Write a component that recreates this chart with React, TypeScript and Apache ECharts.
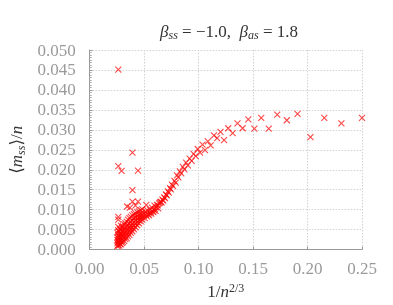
import React, { useEffect, useRef } from 'react';
import * as echarts from 'echarts';

// Upper branch (small n)
const upperX = [0.25, 0.2311, 0.2154, 0.2027, 0.1908, 0.181, 0.1722, 0.1644, 0.1575, 0.1512, 0.1456, 0.1404, 0.1357, 0.1313, 0.1272, 0.1234, 0.1201, 0.117, 0.1141, 0.1111, 0.1085, 0.1059, 0.1036];
const upperY = [0.033, 0.0316, 0.033, 0.0282, 0.034, 0.0324, 0.0338, 0.0303, 0.033, 0.0303, 0.0326, 0.0304, 0.0316, 0.0292, 0.0304, 0.0274, 0.0295, 0.0279, 0.0286, 0.0261, 0.0271, 0.0249, 0.0263];

// Rising band
const bandX = [0.1013, 0.0992, 0.0973, 0.0954, 0.0936, 0.0918, 0.0901, 0.0885, 0.087, 0.0855, 0.0841, 0.0828, 0.0814, 0.0802, 0.079, 0.0778, 0.0766, 0.0755, 0.0745, 0.0737, 0.0727, 0.0718, 0.0709, 0.07, 0.0692, 0.0683, 0.0675, 0.0668, 0.066, 0.0653, 0.0638, 0.0625, 0.0612, 0.06, 0.0589, 0.0578, 0.0562, 0.0548, 0.0534, 0.0517, 0.0498];
const bandY = [0.0243, 0.0252, 0.0234, 0.024, 0.0222, 0.0228, 0.0211, 0.0218, 0.0201, 0.0207, 0.0191, 0.0196, 0.0181, 0.0186, 0.0168, 0.0172, 0.0159, 0.0163, 0.0151, 0.0154, 0.0143, 0.0146, 0.0136, 0.0138, 0.0129, 0.0131, 0.0123, 0.0125, 0.0118, 0.012, 0.0116, 0.0111, 0.0106, 0.0102, 0.0099, 0.0096, 0.0093, 0.0091, 0.0089, 0.0087, 0.0085];

// Scatter around the shoulder
const shoulderX = [0.0505, 0.0512, 0.0525, 0.053, 0.0545, 0.0552, 0.0565, 0.0572, 0.0585, 0.0595, 0.0605, 0.0618, 0.063, 0.0645];
const shoulderY = [0.0079, 0.0095, 0.0083, 0.0098, 0.0086, 0.0101, 0.009, 0.0105, 0.0094, 0.011, 0.0097, 0.0112, 0.0103, 0.0118];

// Dense cloud at large n
const cloudX = [0.0255, 0.0262, 0.027, 0.0278, 0.0287, 0.0296, 0.0306, 0.0317, 0.0328, 0.034, 0.0352, 0.0365, 0.0378, 0.0392, 0.0406, 0.0421, 0.0436, 0.0452, 0.0468, 0.0484];
const cloudY = [
  [0.0009, 0.0016, 0.0024, 0.0031, 0.0042],
  [0.0012, 0.002, 0.0028, 0.0036, 0.0048, 0.0057],
  [0.001, 0.0018, 0.0026, 0.0034, 0.0045],
  [0.0014, 0.0022, 0.0031, 0.004, 0.0052],
  [0.0013, 0.0021, 0.0029, 0.0038, 0.0049, 0.006],
  [0.0017, 0.0025, 0.0034, 0.0044, 0.0055],
  [0.0019, 0.0028, 0.0037, 0.0047, 0.0058],
  [0.0022, 0.0031, 0.004, 0.0051, 0.0063],
  [0.0026, 0.0034, 0.0044, 0.0055, 0.0066],
  [0.0029, 0.0038, 0.0048, 0.0058, 0.007],
  [0.0033, 0.0042, 0.0052, 0.0062, 0.0075],
  [0.0037, 0.0046, 0.0056, 0.0066, 0.0079],
  [0.0042, 0.0051, 0.006, 0.007, 0.0082],
  [0.0046, 0.0055, 0.0064, 0.0074, 0.0086],
  [0.0051, 0.006, 0.0069, 0.0078, 0.0089],
  [0.0056, 0.0065, 0.0073, 0.0081, 0.0091],
  [0.0061, 0.0069, 0.0077, 0.0084, 0.0094],
  [0.0066, 0.0073, 0.008, 0.0087, 0.0096],
  [0.0071, 0.0077, 0.0083, 0.009, 0.0099],
  [0.0075, 0.0081, 0.0086, 0.0093, 0.0101],
];

// Outliers
const outlierX = [0.0263, 0.0393, 0.0263, 0.0293, 0.0444, 0.0393, 0.0263, 0.0263, 0.0393, 0.0444, 0.0344, 0.052, 0.037, 0.042];
const outlierY = [0.0451, 0.0243, 0.0209, 0.0197, 0.0198, 0.0149, 0.0082, 0.0075, 0.012, 0.012, 0.0108, 0.0112, 0.0105, 0.011];

const SERIF = '"Liberation Serif", "DejaVu Serif", serif';

export default function App() {
  const ref = useRef<HTMLDivElement>(null);
  useEffect(() => {
    if (!ref.current) return;
    const chart = echarts.init(ref.current, undefined, { renderer: 'svg' });
    const data: number[][] = [];
    upperX.forEach((x, i) => data.push([x, upperY[i]]));
    bandX.forEach((x, i) => data.push([x, bandY[i]]));
    shoulderX.forEach((x, i) => data.push([x, shoulderY[i]]));
    cloudX.forEach((x, i) => cloudY[i].forEach((y) => data.push([x, y])));
    outlierX.forEach((x, i) => data.push([x, outlierY[i]]));

    const gridLine = { show: true, lineStyle: { color: '#d2d2d2', type: [1.5, 1.5] as any, width: 1 } };
    const mathRich = {
      n: { fontFamily: SERIF, fontSize: 17, fontWeight: 'normal', color: '#333', lineHeight: 20 },
      it: { fontFamily: SERIF, fontSize: 17, fontWeight: 'normal', fontStyle: 'italic', color: '#333', lineHeight: 20 },
      sub: { fontFamily: SERIF, fontSize: 12, fontWeight: 'normal', fontStyle: 'italic', color: '#333', lineHeight: 12, verticalAlign: 'bottom' },
      sup: { fontFamily: SERIF, fontSize: 12, fontWeight: 'normal', color: '#333', lineHeight: 12, verticalAlign: 'top' },
    };

    chart.setOption({
      animation: false,
      title: {
        text: '{it|β}{sub|ss}{n| = −1.0,  }{it|β}{sub|as}{n| = 1.8}',
        left: 224,
        textAlign: 'center',
        top: 16,
        textStyle: { fontWeight: 'normal', rich: mathRich as any },
      },
      grid: { left: 86, right: 31, top: 50, bottom: 49 },
      xAxis: {
        type: 'value',
        min: 0,
        max: 0.25,
        interval: 0.05,
        name: '{n|1/}{it|n}{sup|2/3}',
        nameLocation: 'middle',
        nameGap: 25,
        nameTextStyle: { rich: mathRich as any },
        axisLine: { show: true, lineStyle: { color: '#999', width: 1 } },
        axisTick: { show: true, inside: true, length: 3, lineStyle: { color: '#999' } },
        axisLabel: {
          margin: 10,
          fontFamily: SERIF,
          fontSize: 17,
          color: '#9a9a9a',
          formatter: (v: number) => v.toFixed(2),
        },
        splitLine: gridLine,
      },
      yAxis: {
        type: 'value',
        min: 0,
        max: 0.05,
        interval: 0.005,
        name: '{n|⟨}{it|m}{sub|ss}{n|⟩/}{it|n}',
        nameLocation: 'middle',
        nameRotate: 90,
        nameGap: 58,
        nameTextStyle: { rich: mathRich as any },
        axisLine: { show: true, lineStyle: { color: '#999', width: 1 } },
        axisTick: { show: true, inside: true, length: 3, lineStyle: { color: '#999' } },
        minorTick: { show: true, splitNumber: 8, length: 2, lineStyle: { color: '#aaa' } },
        axisLabel: {
          margin: 14,
          fontFamily: SERIF,
          fontSize: 17,
          color: '#9a9a9a',
          formatter: (v: number) => v.toFixed(3),
        },
        splitLine: gridLine,
      },
      series: [
        {
          type: 'scatter',
          data,
          symbol: 'path://M0 0L10 10M10 0L0 10',
          symbolSize: 6,
          itemStyle: { color: 'none', borderColor: 'rgba(255,0,0,0.9)', borderWidth: 1.1 },
        },
      ],
    });
    return () => chart.dispose();
  }, []);
  return <div ref={ref} style={{ position: 'fixed', left: 0, top: 0, width: 393, height: 305 }} />;
}
